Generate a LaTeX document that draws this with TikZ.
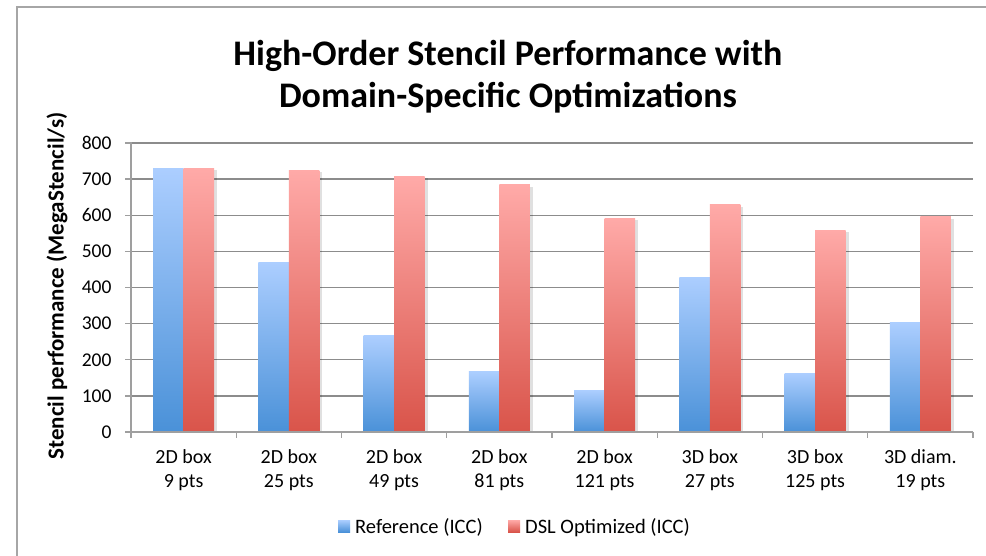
\documentclass[tikz,border=0pt]{standalone}
\usepackage{fontspec}
\setmainfont{Carlito}
\begin{document}
\begin{tikzpicture}[x=1pt,y=-1pt,
  gridline/.style={draw=gray!80!black!75, line width=1.4pt},
  axisline/.style={draw=gray!75, line width=1.4pt},
  ticklabel/.style={font=\fontsize{19.5}{22}\selectfont, text=black},
  catlabel/.style={font=\fontsize{20}{24}\selectfont, align=center, text=black},
  legendlabel/.style={font=\fontsize{20.5}{24}\selectfont, text=black},
  refbar/.style={top color=refTop, bottom color=refBot, draw=none},
  dslbar/.style={top color=dslTop, bottom color=dslBot, draw=none},
  barshadow/.style={fill=black, opacity=0.12, draw=none}]
\definecolor{refTop}{RGB}{172,206,255}
\definecolor{refBot}{RGB}{74,145,216}
\definecolor{dslTop}{RGB}{255,170,168}
\definecolor{dslBot}{RGB}{217,84,74}
\useasboundingbox (0,0) rectangle (986,556);
\fill[white] (0,0) rectangle (986,556);
% chart frame (left and top edges)
\draw[draw=gray!70, line width=1.6pt] (17,560) -- (17,7) -- (990,7);
% title
\node[font=\bfseries\fontsize{36}{42}\selectfont, align=center] (title) at (508,77)
  {High-Order Stencil Performance with\\Domain-Specific Optimizations};
% axis title
\node[font=\bfseries\fontsize{23}{26}\selectfont, rotate=90] (ylabel) at (57,286)
  {Stencil performance (MegaStencil/s)};
% horizontal grid and value labels
\foreach \v in {0,100,...,800}{
  \pgfmathsetmacro{\yy}{432-0.36125*\v}
  \ifnum\v>0 \draw[gridline] (131,\yy) -- (973,\yy);\fi
  \draw[axisline] (125,\yy) -- (131,\yy);
  \node[ticklabel, anchor=east] (yt\v) at (115,\yy) {\v};
}
% bars
\foreach \r/\d [count=\i from 0] in {730/730,470/725,266/708,167/684,116/592,429/629,162/559,303/596}{
  \pgfmathsetmacro{\cx}{131+105.25*(\i+0.5)}
  \pgfmathsetmacro{\yr}{432-0.36125*\r}
  \pgfmathsetmacro{\yd}{432-0.36125*\d}
  \fill[barshadow] (\cx+30.5,\yd+2) rectangle (\cx+33.5,432);
  \shade[refbar] (\cx-30.5,\yr) rectangle (\cx,432);
  \shade[dslbar] (\cx,\yd) rectangle (\cx+30.5,432);
}
% axes
\draw[axisline] (131,142.5) -- (131,432);
\draw[axisline] (131,432) -- (973,432);
\foreach \i in {0,...,8}{
  \draw[axisline] (131+105.25*\i,432) -- (131+105.25*\i,438);
}
% category labels
\foreach \a/\b [count=\i from 0] in {2D box/9 pts,2D box/25 pts,2D box/49 pts,2D box/81 pts,2D box/121 pts,3D box/27 pts,3D box/125 pts,3D diam./19 pts}{
  \node[catlabel] (cat\i) at (131+105.25*\i+52.6,470) {\a\\\b};
}
% legend
\shade[refbar] (338,520) rectangle (350,532);
\node[legendlabel, anchor=base west, inner sep=0pt] (legref) at (355,533) {Reference (ICC)};
\shade[dslbar] (508,520) rectangle (520,532);
\node[legendlabel, anchor=base west, inner sep=0pt] (legdsl) at (525,533) {DSL Optimized (ICC)};
\end{tikzpicture}
\end{document}
